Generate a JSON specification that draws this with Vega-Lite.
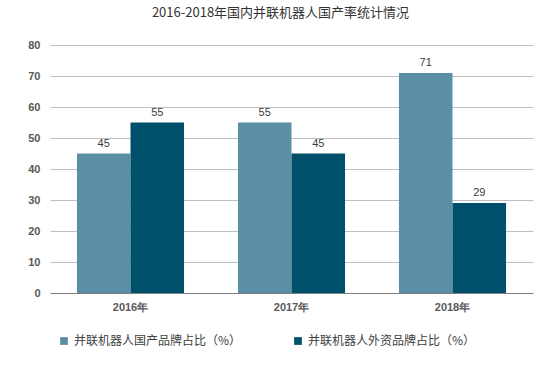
{
  "$schema": "https://vega.github.io/schema/vega-lite/v6.json",
  "width": 483,
  "height": 248,
  "autosize": {"type": "none"},
  "padding": {"left": 50, "top": 45, "right": 27, "bottom": 77},
  "background": "#ffffff",
  "title": {
    "text": "2016-2018年国内并联机器人国产率统计情况",
    "font": "Noto Sans CJK SC",
    "fontSize": 13,
    "fontWeight": "normal",
    "color": "#333333",
    "anchor": "middle",
    "dx": -11,
    "offset": 19
  },
  "data": {
    "values": [
      {"year": "2016年", "series": "并联机器人国产品牌占比（%）", "value": 45},
      {"year": "2016年", "series": "并联机器人外资品牌占比（%）", "value": 55},
      {"year": "2017年", "series": "并联机器人国产品牌占比（%）", "value": 55},
      {"year": "2017年", "series": "并联机器人外资品牌占比（%）", "value": 45},
      {"year": "2018年", "series": "并联机器人国产品牌占比（%）", "value": 71},
      {"year": "2018年", "series": "并联机器人外资品牌占比（%）", "value": 29}
    ]
  },
  "encoding": {
    "x": {
      "field": "year", "type": "nominal",
      "scale": {"paddingInner": 0.335, "paddingOuter": 0.1675},
      "axis": {
        "title": null, "labelAngle": 0, "ticks": false,
        "domainColor": "#7f7f7f", "labelColor": "#595959",
        "labelFont": "Liberation Sans", "labelFontSize": 11, "labelFontWeight": "bold",
        "labelPadding": 8
      }
    },
    "xOffset": {"field": "series", "type": "nominal"},
    "y": {
      "field": "value", "type": "quantitative",
      "scale": {"domain": [0, 80]},
      "axis": {
        "title": null, "values": [0,10,20,30,40,50,60,70,80],
        "domain": false, "ticks": false, "labelPadding": 10,
        "gridColor": "#bfbfbf", "labelColor": "#595959",
        "labelFont": "Liberation Sans", "labelFontSize": 11, "labelFontWeight": "bold"
      }
    }
  },
  "layer": [
    {
      "mark": {"type": "bar"},
      "encoding": {
        "color": {
          "field": "series", "type": "nominal",
          "scale": {"range": ["#5a8fa6", "#00506b"]},
          "legend": {
            "title": null, "orient": "none", "direction": "horizontal",
            "legendX": 8, "legendY": 290,
            "symbolType": "square", "symbolSize": 60,
            "labelFont": "Noto Sans CJK SC", "labelFontSize": 12, "labelColor": "#404040",
            "columnPadding": 50, "labelLimit": 300
          }
        }
      }
    },
    {
      "mark": {"type": "text", "baseline": "bottom", "dy": -5, "font": "Liberation Sans", "fontSize": 11, "color": "#404040"},
      "encoding": {"text": {"field": "value", "type": "quantitative"}}
    }
  ],
  "config": {"view": {"stroke": null}}
}
